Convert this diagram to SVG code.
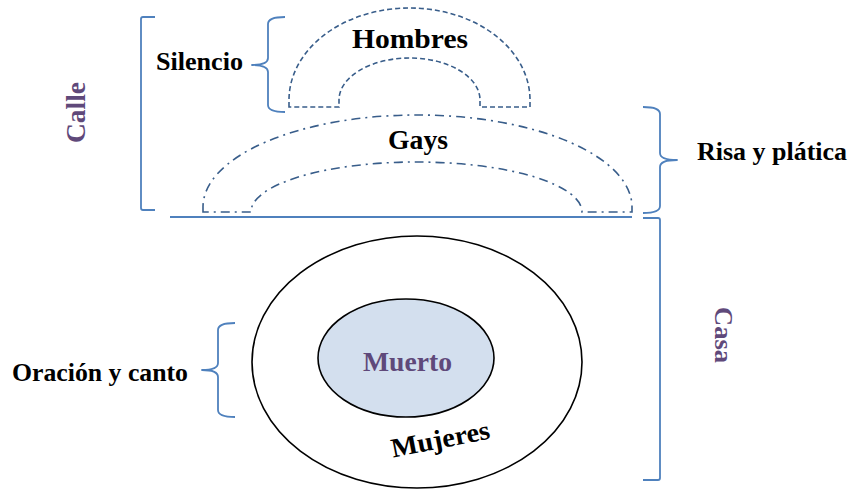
<svg xmlns="http://www.w3.org/2000/svg" width="849" height="491" viewBox="0 0 849 491">
<style>
.lbl{font-family:"Liberation Serif","Times New Roman",serif;font-weight:bold;fill:#000}
.pur{font-family:"Liberation Serif","Times New Roman",serif;font-weight:bold;fill:#5f497a}
.br{fill:none;stroke:#4f81bd;stroke-width:1.8;stroke-linejoin:round}
.dash{fill:none;stroke:#385d8a;stroke-width:1.6;stroke-dasharray:5,3}
.dd{fill:none;stroke:#385d8a;stroke-width:1.6;stroke-dasharray:9,5,2,5}
</style>
<rect width="849" height="491" fill="#fff"/>
<g id="connectors">
  <path id="calle-bracket" class="br" d="M155,17 L143,17 Q141,17 141,19 L141,208 Q141,210 143,210 L155,210"/>
  <path id="silencio-brace" class="br" d="M285,17 Q268,17 268,24 L268,58 Q268,65 252,65 Q268,65 268,72 L268,105 Q268,112 285,112"/>
  <path id="risa-brace" class="br" d="M643,107 Q660,107 660,114 L660,153 Q660,160 677,160 Q660,160 660,167 L660,206 Q660,213 643,213"/>
  <path id="casa-bracket" class="br" d="M643,218 L658,218 Q660,218 660,220 L660,478 Q660,480 658,480 L643,480"/>
  <path id="oracion-brace" class="br" d="M235,323 Q218,323 218,330 L218,363 Q218,370 202,370 Q218,370 218,377 L218,410 Q218,417 235,417"/>
  <line id="ground" x1="170" y1="217" x2="632" y2="217" stroke="#4f81bd" stroke-width="2"/>
</g>
<g id="hombres">
  <path class="dash" d="M289,107 L289,100 A120.5,92 0 0 1 530,100 L530,107 L480,107 L480,100 A70.5,42 0 0 0 339,100 L339,107 Z"/>
  <text class="lbl" x="410" y="48" font-size="28" text-anchor="middle" textLength="116" lengthAdjust="spacingAndGlyphs">Hombres</text>
</g>
<g id="gays">
  <path class="dd" d="M203,212 L203,207 A214.5,92 0 0 1 632,207 L632,212 L582,212 A165.5,50 0 0 0 251,212 Z"/>
  <text class="lbl" x="418" y="149" font-size="27" text-anchor="middle" textLength="60" lengthAdjust="spacingAndGlyphs">Gays</text>
</g>
<g id="mujeres">
  <ellipse cx="417" cy="362" rx="165" ry="126" fill="#fff" stroke="#000" stroke-width="1.6"/>
  <text class="lbl" x="0" y="0" font-size="27" text-anchor="middle" textLength="100" lengthAdjust="spacingAndGlyphs" transform="translate(442,448) rotate(-11)">Mujeres</text>
</g>
<g id="muerto">
  <ellipse cx="406" cy="358" rx="88" ry="59" fill="#d3dfee" stroke="#000" stroke-width="1.6"/>
  <text class="pur" x="407.5" y="371" font-size="27" text-anchor="middle" textLength="89" lengthAdjust="spacingAndGlyphs">Muerto</text>
</g>
<g id="silencio">
  <text class="lbl" x="156" y="70" font-size="26" textLength="87" lengthAdjust="spacingAndGlyphs">Silencio</text>
</g>
<g id="risa">
  <text class="lbl" x="697" y="160" font-size="26" textLength="150" lengthAdjust="spacingAndGlyphs">Risa y plática</text>
</g>
<g id="oracion">
  <text class="lbl" x="12" y="381" font-size="26" textLength="176" lengthAdjust="spacingAndGlyphs">Oración y canto</text>
</g>
<g id="calle">
  <text class="pur" x="0" y="0" font-size="27" text-anchor="middle" textLength="61" lengthAdjust="spacingAndGlyphs" transform="translate(85,112.5) rotate(-90)">Calle</text>
</g>
<g id="casa">
  <text class="pur" x="0" y="0" font-size="26" text-anchor="middle" textLength="56" lengthAdjust="spacingAndGlyphs" transform="translate(715,335) rotate(90)">Casa</text>
</g>
</svg>
